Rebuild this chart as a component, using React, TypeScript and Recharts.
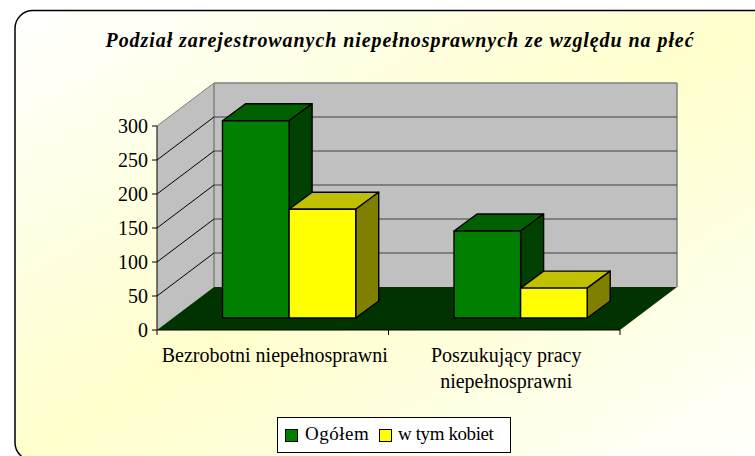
import { BarChart, Bar, XAxis, YAxis, CartesianGrid, Legend } from "recharts";

const CATEGORIES = [["Bezrobotni niepełnosprawni"], ["Poszukujący pracy", "niepełnosprawni"]];
const TOTAL_VALUES = [290, 128];
const WOMEN_VALUES = [160, 44];
const Y_TICKS = [0, 50, 100, 150, 200, 250, 300];
const TITLE = "Podział zarejestrowanych niepełnosprawnych ze względu na płeć";

const WIDTH = 755;
const HEIGHT = 456;
const SERIF = '"Liberation Serif", "Times New Roman", serif';

// plot box (front plane) and how far the 3D walls/bars are pushed back
const LEFT = 157;
const RIGHT = 620;
const TOP = 126;
const BOTTOM = 330;
const WALL_DX = 57;
const WALL_DY = 43;
const BAR_SHIFT_X = 16.5;
const BAR_SHIFT_Y = 12;
const BAR_DX = 23;
const BAR_DY = 17;

const chartData = CATEGORIES.map((lines, i) => ({
  name: lines.join(" "),
  lines,
  total: TOTAL_VALUES[i],
  women: WOMEN_VALUES[i],
}));

const pts = (list: number[][]) => list.map((p) => p.join(",")).join(" ");

function Box3D({ x, y, width, height, front, top, side }: any) {
  const l = x + BAR_SHIFT_X;
  const r = l + width;
  const t = y - BAR_SHIFT_Y;
  const b = t + height;
  return (
    <g stroke="#000" strokeWidth={1.4} strokeLinejoin="round">
      <polygon points={pts([[l, t], [r, t], [r + BAR_DX, t - BAR_DY], [l + BAR_DX, t - BAR_DY]])} fill={top} />
      <polygon points={pts([[r, t], [r + BAR_DX, t - BAR_DY], [r + BAR_DX, b - BAR_DY], [r, b]])} fill={side} />
      <rect x={l} y={t} width={width} height={height} fill={front} />
    </g>
  );
}

function GridLine({ x1, y1 }: any) {
  const isTop = Math.abs(y1 - TOP) < 1;
  const isBottom = Math.abs(y1 - BOTTOM) < 1;
  if (isBottom) return null;
  return (
    <g>
      <line x1={x1} y1={y1} x2={x1 + WALL_DX} y2={y1 - WALL_DY} stroke={isTop ? "#808080" : "#000"} strokeWidth={1} />
      <line x1={x1 + WALL_DX} y1={y1 - WALL_DY} x2={RIGHT + WALL_DX} y2={y1 - WALL_DY} stroke={isTop ? "#808080" : "#404040"} strokeWidth={isTop ? 1.5 : 1} />
    </g>
  );
}

function CategoryTick({ x, index, payload }: any) {
  const lines = CATEGORIES[index] ?? [payload.value];
  const band = (RIGHT - LEFT) / CATEGORIES.length;
  const edge = LEFT + band * index;
  return (
    <g>
      <line x1={edge} y1={BOTTOM} x2={edge} y2={BOTTOM + 5} stroke="#000" />
      {index === CATEGORIES.length - 1 && <line x1={RIGHT} y1={BOTTOM} x2={RIGHT} y2={BOTTOM + 5} stroke="#000" />}
      <text x={x + 2} textAnchor="middle" fontFamily={SERIF} fontSize={20} fill="#000">
        {lines.map((line: string, i: number) => (
          <tspan key={line} x={x + 2} y={362 + i * 26}>{line}</tspan>
        ))}
      </text>
    </g>
  );
}

function LegendBox() {
  const swatch = (color: string, left: number) => (
    <span style={{ position: "absolute", left, top: 11, width: 11, height: 11, background: color, border: "1px solid #000" }} />
  );
  const label = (text: string, left: number, spacing: number) => (
    <span style={{ position: "absolute", left, top: 5, letterSpacing: spacing, whiteSpace: "nowrap" }}>{text}</span>
  );
  return (
    <div
      style={{
        position: "relative",
        boxSizing: "border-box",
        width: 234,
        height: 36,
        border: "1px solid #000",
        background: "#fff",
        fontFamily: SERIF,
        fontSize: 19,
        lineHeight: "22px",
        color: "#000",
      }}
    >
      {swatch("#008000", 7)}
      {label("Ogółem", 27, 0.5)}
      {swatch("#ffff00", 101)}
      {label("w tym kobiet", 120, -0.4)}
    </div>
  );
}

function Backdrop() {
  return (
    <svg width={WIDTH} height={HEIGHT} style={{ position: "absolute", left: 0, top: 0 }}>
      <defs>
        <linearGradient id="panel" x1="0" y1="0" x2="1" y2="1">
          <stop offset="0" stopColor="#ffffff" />
          <stop offset="0.5" stopColor="#ffffcc" />
          <stop offset="1" stopColor="#ffffff" />
        </linearGradient>
      </defs>
      <rect x={15} y={10.5} width={770} height={450} rx={18} fill="url(#panel)" stroke="#000" strokeWidth={1.5} />
      <text x={400} y={47} textAnchor="middle" fontFamily={SERIF} fontSize={20} letterSpacing={0.93} fontWeight="bold" fontStyle="italic" fill="#000">
        {TITLE}
      </text>
      {/* walls and floor */}
      <polygon points={pts([[LEFT + WALL_DX, TOP - WALL_DY], [RIGHT + WALL_DX, TOP - WALL_DY], [RIGHT + WALL_DX, BOTTOM - WALL_DY], [LEFT + WALL_DX, BOTTOM - WALL_DY]])} fill="#c0c0c0" />
      <polygon points={pts([[LEFT, TOP], [LEFT + WALL_DX, TOP - WALL_DY], [LEFT + WALL_DX, BOTTOM - WALL_DY], [LEFT, BOTTOM]])} fill="#c0c0c0" />
      <line x1={LEFT + WALL_DX} y1={TOP - WALL_DY} x2={LEFT + WALL_DX} y2={BOTTOM - WALL_DY} stroke="#808080" strokeWidth={1.5} />
      <line x1={RIGHT + WALL_DX} y1={TOP - WALL_DY} x2={RIGHT + WALL_DX} y2={BOTTOM - WALL_DY} stroke="#808080" strokeWidth={1.5} />
      <polygon points={pts([[LEFT, BOTTOM], [LEFT + WALL_DX, BOTTOM - WALL_DY], [RIGHT + WALL_DX, BOTTOM - WALL_DY], [RIGHT, BOTTOM]])} fill="#003300" />
    </svg>
  );
}

export default function App() {
  return (
    <div style={{ position: "absolute", left: 0, top: 0, width: WIDTH, height: HEIGHT, overflow: "hidden", background: "#fff" }}>
      <Backdrop />
      <div style={{ position: "absolute", left: 0, top: 0 }}>
        <BarChart
          width={WIDTH}
          height={HEIGHT}
          data={chartData}
          margin={{ top: TOP, right: WIDTH - RIGHT, bottom: 0, left: 0 }}
          barSize={66.6}
          barGap={0}
        >
          <CartesianGrid vertical={false} horizontal={(props: any) => <GridLine key={props.key ?? props.y1} {...props} />} />
          <XAxis
            dataKey="name"
            height={HEIGHT - BOTTOM}
            interval={0}
            tickLine={false}
            axisLine={{ stroke: "#000" }}
            tick={<CategoryTick />}
          />
          <YAxis
            width={LEFT}
            domain={[0, 300]}
            ticks={Y_TICKS}
            interval={0}
            tickSize={5}
            tickMargin={4}
            axisLine={{ stroke: "#000" }}
            tickLine={{ stroke: "#000" }}
            tick={{ fill: "#000", fontFamily: SERIF, fontSize: 20 }}
          />
          <Bar dataKey="total" name="Ogółem" isAnimationActive={false} shape={(p: any) => <Box3D {...p} front="#008000" top="#006000" side="#004000" />} />
          <Bar dataKey="women" name="w tym kobiet" isAnimationActive={false} shape={(p: any) => <Box3D {...p} front="#ffff00" top="#c0c000" side="#808000" />} />
          <Legend content={<LegendBox />} wrapperStyle={{ position: "absolute", left: 277, top: 417, width: 234, height: 0 }} />
        </BarChart>
      </div>
    </div>
  );
}
